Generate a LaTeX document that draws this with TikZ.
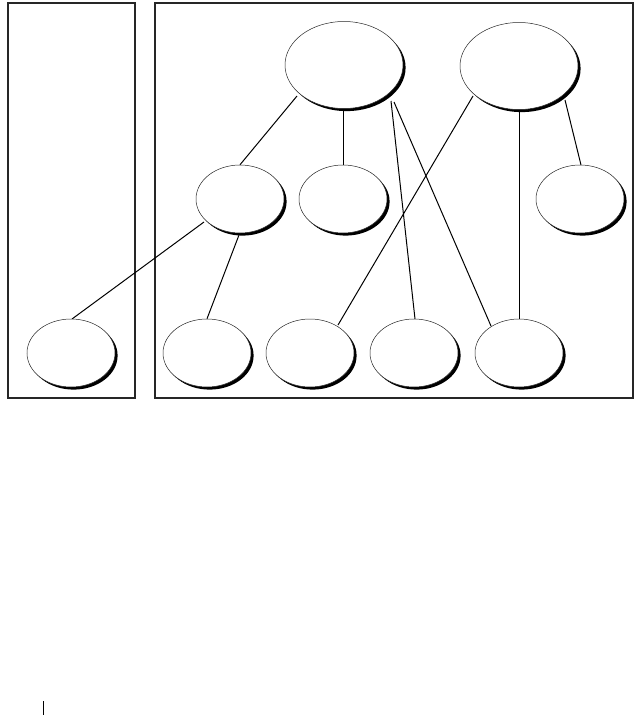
\documentclass[tikz,border=0pt]{standalone}
\usetikzlibrary{shapes.geometric,shadows,backgrounds,calc}
\begin{document}
\begin{tikzpicture}[x=1pt,y=-1pt,
  ell/.style={ellipse,draw=black!85,line width=0.5pt,fill=white,inner sep=0pt,
    drop shadow={shadow xshift=2.6pt,shadow yshift=-2.6pt,fill=black,opacity=1}},
  big/.style={ell,minimum width=118pt,minimum height=87pt},
  small/.style={ell,minimum width=88pt,minimum height=68pt},
  conn/.style={line width=1pt},
  frame/.style={draw=black!85,line width=1.1pt}]
\useasboundingbox (0,0) rectangle (641,715);
% ellipses
\node[big]   (t1) at (344,65) {};
\node[big]   (t2) at (519,66) {};
\node[small] (m1) at (240,199) {};
\node[small] (m2) at (343,199) {};
\node[small] (m3) at (580,199) {};
\node[small] (b0) at (71,353) {};
\node[small] (b1) at (207,353) {};
\node[small] (b2) at (310,353) {};
\node[small] (b3) at (414,353) {};
\node[small] (b4) at (519,353) {};
\begin{pgfonlayer}{background}
\draw[frame] (8,3) rectangle (135,398);
\draw[frame] (155,3) rectangle (633,398);
\draw[conn] ($(t1.center)+(-47,31)$) -- (m1.north);
\draw[conn] (t1.south -| m2.north) -- (m2.north);
\draw[conn] ($(t1.center)+(47,36)$) -- ($(b3.center)+(1,-34)$);
\draw[conn] ($(t1.center)+(50,37)$) -- ($(b4.center)+(-28,-27)$);
\draw[conn] ($(t2.center)+(-46,30)$) -- ($(b2.center)+(28,-28)$);
\draw[conn] (t2.south) -- (b4.north);
\draw[conn] ($(t2.center)+(46,34)$) -- ($(m3.center)+(1,-34)$);
\draw[conn] ($(m1.center)+(-36,23)$) -- ($(b0.center)+(1,-34)$);
\draw[conn] ($(m1.center)+(-1,36)$) -- (b1.north);
\end{pgfonlayer}
\draw[line width=1pt] (43,701) -- (43,715);
\end{tikzpicture}
\end{document}
